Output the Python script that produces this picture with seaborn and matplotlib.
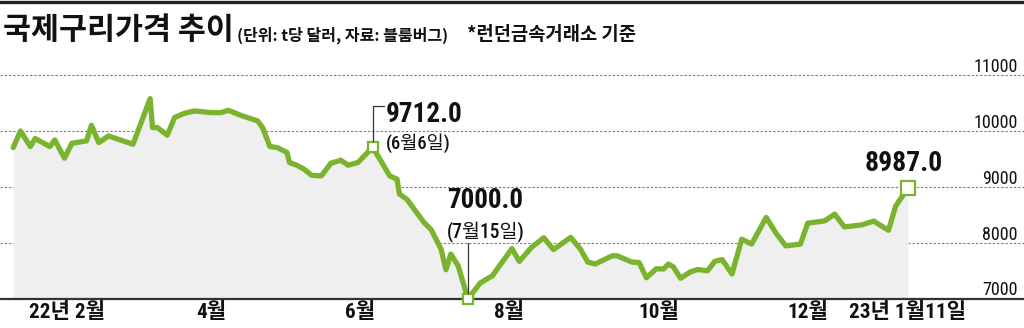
import numpy as np
import pandas as pd
import matplotlib
matplotlib.use("Agg")
import matplotlib.pyplot as plt
import matplotlib.dates as mdates
import seaborn as sns
from matplotlib import font_manager as fm
from matplotlib.lines import Line2D
from matplotlib.transforms import ScaledTranslation

# ---------------- data ----------------
dates = ['2022-01-10', '2022-01-13', '2022-01-17', '2022-01-19', '2022-01-25', '2022-01-27',
         '2022-01-31', '2022-02-03', '2022-02-09', '2022-02-11', '2022-02-14', '2022-02-18',
         '2022-02-28', '2022-03-07', '2022-03-08', '2022-03-10', '2022-03-14', '2022-03-17',
         '2022-03-21', '2022-03-25', '2022-04-01', '2022-04-05', '2022-04-08', '2022-04-13',
         '2022-04-20', '2022-04-22', '2022-04-25', '2022-04-28', '2022-05-02', '2022-05-03',
         '2022-05-06', '2022-05-09', '2022-05-12', '2022-05-16', '2022-05-20', '2022-05-24',
         '2022-05-27', '2022-05-31', '2022-06-06', '2022-06-09', '2022-06-13', '2022-06-16',
         '2022-06-17', '2022-06-20', '2022-06-27', '2022-06-30', '2022-07-04', '2022-07-06',
         '2022-07-08', '2022-07-11', '2022-07-15', '2022-07-20', '2022-07-25', '2022-08-02',
         '2022-08-05', '2022-08-10', '2022-08-15', '2022-08-19', '2022-08-26', '2022-08-30',
         '2022-09-02', '2022-09-05', '2022-09-12', '2022-09-14', '2022-09-20', '2022-09-23',
         '2022-09-26', '2022-09-30', '2022-10-03', '2022-10-05', '2022-10-07', '2022-10-10',
         '2022-10-14', '2022-10-17', '2022-10-21', '2022-10-24', '2022-10-27', '2022-10-31',
         '2022-11-04', '2022-11-08', '2022-11-11', '2022-11-14', '2022-11-18', '2022-11-22',
         '2022-11-28', '2022-12-01', '2022-12-05', '2022-12-08', '2022-12-12', '2022-12-16',
         '2022-12-23', '2022-12-28', '2023-01-03', '2023-01-06', '2023-01-11']
prices = [9709, 10005, 9727, 9870, 9727, 9845,
          9518, 9786, 9827, 10107, 9798, 9916,
          9768, 10584, 10066, 10066, 9929, 10245,
          10321, 10363, 10334, 10334, 10375, 10286,
          10184, 10066, 9727, 9709, 9620, 9441,
          9393, 9321, 9214, 9202, 9429, 9482,
          9393, 9441, 9712, 9500, 9202, 9143,
          8875, 8786, 8370, 8238, 7893, 7523,
          7804, 7595, 7000, 7286, 7416, 7902,
          7673, 7923, 8095, 7884, 8102, 7893,
          7661, 7625, 7773, 7773, 7661, 7652,
          7380, 7541, 7536, 7625, 7575, 7370,
          7486, 7527, 7505, 7675, 7705, 7446,
          8071, 7982, 8220, 8459, 8179, 7950,
          7982, 8357, 8380, 8398, 8518, 8289,
          8325, 8393, 8229, 8666, 8987]

tick_dates = ['2022-02-01', '2022-04-01', '2022-06-01', '2022-08-01', '2022-10-01', '2022-12-01', '2023-01-11']
tick_labels = ['22년 2월', '4월', '6월', '8월', '10월', '12월', '23년 1월11일']
y_ticks = [7000, 8000, 9000, 10000, 11000]
y_labels = ['7000', '8000', '9000', '10000', '11000']

hl_dates = ['2022-06-06', '2022-07-15', '2023-01-11']
hl_values = [9712.0, 7000.0, 8987.0]
hl_value_text = ['9712.0', '7000.0', '8987.0']
hl_date_text = ['(6월6일)', '(7월15일)', '']

title = '국제구리가격 추이'
subtitle = '(단위: t당 달러, 자료: 블룸버그)'
note = '*런던금속거래소 기준'

# ---------------- style ----------------
W, H = 1024, 328
GREEN = '#7ab32e'
FILL = '#efefef'

sns.set_theme(style='white')
KR = 'Noto Sans CJK KR'
installed = {f.name for f in fm.fontManager.ttflist}
NUM_STRETCH = 'normal'
if 'Liberation Sans Narrow' in installed:
    NUM = ['Liberation Sans Narrow']
elif 'DejaVu Sans Condensed' in installed:
    NUM = ['DejaVu Sans Condensed']
elif 'Roboto Condensed' in installed:
    NUM = ['Roboto Condensed']
elif any(f.name == 'DejaVu Sans' and f.stretch == 'condensed' for f in fm.fontManager.ttflist):
    NUM = ['DejaVu Sans']
    NUM_STRETCH = 'condensed'
else:
    NUM = ['Liberation Sans']
MIX = NUM + [KR, 'DejaVu Sans']
plt.rcParams['font.family'] = MIX
plt.rcParams['axes.unicode_minus'] = False

fig = plt.figure(figsize=(W / 100, H / 100), dpi=100)
fig.patch.set_facecolor('white')
ax = fig.add_axes([0, 29 / H, 1, (299 - 53) / H])
ax.set_facecolor('none')

df = pd.DataFrame({'date': pd.to_datetime(dates), 'price': prices})

ax.fill_between(df['date'], df['price'], 7000, color=FILL, lw=0, zorder=1)
sns.lineplot(data=df, x='date', y='price', ax=ax, color=GREEN, lw=3.8,
             solid_joinstyle='round', solid_capstyle='round', zorder=3)

base = mdates.date2num(pd.Timestamp('2022-01-01'))
ax.set_xlim(base + 3.6, base + 422.45)
ax.set_ylim(7000, 11400)

# y axis (labels inside right, above gridlines)
ax.yaxis.tick_right()
ax.set_yticks(y_ticks)
ax.set_yticklabels(y_labels)
ax.tick_params(axis='y', length=0, pad=-4.5, labelsize=12, labelcolor='#111')
for lab in ax.get_yticklabels():
    lab.set_ha('right')
    lab.set_va('baseline')
    lab.set_stretch(NUM_STRETCH)
    lab.set_transform(lab.get_transform() + ScaledTranslation(0, 3.5 / 100, fig.dpi_scale_trans))
ax.yaxis.grid(True, ls=(0, (2.2, 1.6)), color='#808080', lw=0.8)
ax.xaxis.grid(False)
ax.set_axisbelow(True)

# x axis
ax.set_xticks(pd.to_datetime(tick_dates))
ax.set_xticklabels(tick_labels)
ax.tick_params(axis='x', direction='in', length=8, width=0.8, color='#555555',
               pad=2, labelsize=15, labelcolor='#111')
for lab in ax.get_xticklabels():
    lab.set_fontweight('bold')
    lab.set_stretch(NUM_STRETCH)
ax.set_xlabel('')
ax.set_ylabel('')
for s in ['top', 'left', 'right']:
    ax.spines[s].set_visible(False)
ax.spines['bottom'].set_color('#333333')
ax.spines['bottom'].set_linewidth(1.6)
ax.spines['bottom'].set_zorder(4)

# highlight markers
msizes = [6.8, 6.8, 10.0]
for d, v, ms in zip(hl_dates, hl_values, msizes):
    ax.plot([pd.Timestamp(d)], [v], marker='s', ms=ms, mfc='white', mec=GREEN,
            mew=1.6, ls='none', zorder=6, clip_on=False)

fig.add_artist(Line2D([0, 1], [1 - 1.5 / H, 1 - 1.5 / H], transform=fig.transFigure,
                      color='#222222', lw=2.4))

fig.canvas.draw()
renderer = fig.canvas.get_renderer()


def fit(t, target_w):
    w = t.get_window_extent(renderer).width
    if w > 0:
        t.set_fontsize(t.get_fontsize() * target_w / w)


def ftext(x, y, s, **kw):
    return fig.text(x / W, 1 - y / H, s, **kw)


def to_px(d, v):
    px, py = ax.transData.transform((mdates.date2num(pd.Timestamp(d)), v))
    return px, H - py


# titles
t1 = ftext(3, 30, title, family=[KR], fontweight='black', fontsize=20, va='center', ha='left', color='#111')
t2 = ftext(237, 35, subtitle, family=[KR], fontweight='bold', fontsize=11, va='center', ha='left', color='#111')
t3 = ftext(467, 35, note, family=[KR], fontweight='bold', fontsize=11, va='center', ha='left', color='#111')
fit(t1, 230)
fit(t2, 211)
fit(t3, 168)

# tick label fit
xl = ax.get_xticklabels()
w0 = xl[0].get_window_extent(renderer).width
if w0 > 0:
    ax.tick_params(axis='x', labelsize=15 * 76 / w0)
yl = ax.get_yticklabels()
w1 = yl[-1].get_window_extent(renderer).width
if w1 > 0:
    ax.tick_params(axis='y', labelsize=12 * 44 / w1)

# annotations
numkw = dict(family=MIX, fontweight='bold', stretch=NUM_STRETCH, color='#111', fontsize=20)
krkw = dict(family=MIX, fontweight='medium', stretch=NUM_STRETCH, color='#111', fontsize=13)
lkw = dict(transform=fig.transFigure, color='#333333', lw=0.9)

# 9712.0 (6월6일)
mx, my = to_px(hl_dates[0], hl_values[0])
fig.add_artist(Line2D([mx / W, mx / W, (mx + 11) / W],
                      [1 - (my - 6) / H, 1 - (my - 41) / H, 1 - (my - 41) / H], **lkw))
a1 = ftext(mx + 13, my - 33, hl_value_text[0], ha='left', va='center', **numkw)
b1 = ftext(mx + 13, my - 4, hl_date_text[0], ha='left', va='center', **krkw)
fit(a1, 77)
fit(b1, 65)

# 7000.0 (7월15일)
mx, my = to_px(hl_dates[1], hl_values[1])
fig.add_artist(Line2D([mx / W, mx / W], [1 - (my - 6) / H, 1 - 243 / H], **lkw))
a2 = ftext(447, 200, hl_value_text[1], ha='left', va='center', **numkw)
b2 = ftext(447, 232, hl_date_text[1], ha='left', va='center', **krkw)
fit(a2, 76)
fit(b2, 78)

# 8987.0
mx, my = to_px(hl_dates[2], hl_values[2])
a3 = ftext(mx - 4, my - 24, hl_value_text[2], ha='center', va='center', **numkw)
fit(a3, 78)

fig.savefig('out.png', dpi=100, facecolor='white')
